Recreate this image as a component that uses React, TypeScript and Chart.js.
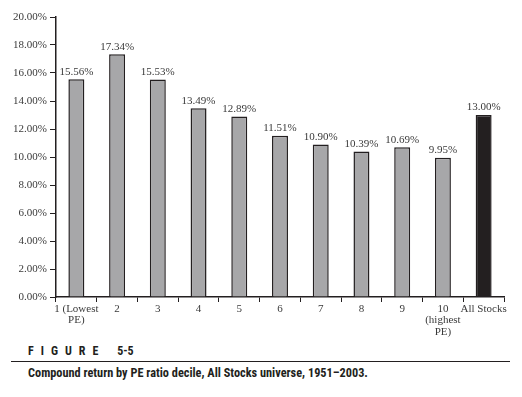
import React, { useEffect, useRef } from "react";
import { Chart, registerables } from "chart.js";

Chart.register(...registerables);

const categories: (string | string[])[] = [
  ["1 (Lowest", "PE)"],
  "2",
  "3",
  "4",
  "5",
  "6",
  "7",
  "8",
  "9",
  ["10", "(highest", "PE)"],
  "All Stocks",
];
const returns: number[] = [15.56, 17.34, 15.53, 13.49, 12.89, 11.51, 10.9, 10.39, 10.69, 9.95, 13.0];
const yTicks: number[] = [0, 2, 4, 6, 8, 10, 12, 14, 16, 18, 20];

const GRAY = "#a7a7a9";
const DARK = "#231f20";
const SERIF = "'Liberation Serif', 'DejaVu Serif', serif";

const labelPlugin = {
  id: "barLabels",
  afterDatasetsDraw(chart: any) {
    const ctx = chart.ctx;
    const meta = chart.getDatasetMeta(0);
    ctx.save();
    ctx.font = `11px ${SERIF}`;
    ctx.fillStyle = "#3a3a3a";
    ctx.textAlign = "center";
    ctx.textBaseline = "bottom";
    meta.data.forEach((el: any, i: number) => {
      ctx.fillText(`${returns[i].toFixed(2)}%`, el.x, el.y - 2);
    });
    ctx.restore();
  },
};

export default function App() {
  const ref = useRef<HTMLCanvasElement>(null);
  useEffect(() => {
    if (!ref.current) return;
    const chart = new Chart(ref.current, {
      type: "bar",
      data: {
        labels: categories,
        datasets: [
          {
            data: returns,
            backgroundColor: returns.map((_, i) => (i === returns.length - 1 ? DARK : GRAY)),
            borderColor: DARK,
            borderWidth: 1.5,
            borderSkipped: "bottom",
            barPercentage: 0.8,
            categoryPercentage: 0.49,
          },
        ],
      },
      options: {
        responsive: false,
        animation: false,
        layout: { padding: { left: 0, right: 18, top: 17, bottom: 0 } },
        plugins: { legend: { display: false }, tooltip: { enabled: false } },
        scales: {
          x: {
            grid: {
              offset: true,
              drawOnChartArea: false,
              tickLength: 5,
              color: DARK,
              lineWidth: 1,
            },
            border: { color: DARK, width: 1.5 },
            ticks: {
              font: { family: SERIF, size: 11, lineHeight: 1.05 },
              color: "#3a3a3a",
              padding: 1,
              maxRotation: 0,
              autoSkip: false,
            },
            afterFit(scale: any) {
              scale.height = 43;
            },
          },
          y: {
            min: 0,
            max: 20,
            afterBuildTicks(scale: any) {
              scale.ticks = yTicks.map((v) => ({ value: v }));
            },
            grid: {
              drawOnChartArea: false,
              tickLength: 6,
              color: DARK,
              lineWidth: 1,
            },
            border: { color: DARK, width: 1.5 },
            ticks: {
              font: { family: SERIF, size: 11 },
              color: "#3a3a3a",
              padding: 3,
              callback: (v: any) => `${Number(v).toFixed(2)}%`,
            },
            afterFit(scale: any) {
              scale.width = 56;
            },
          },
        },
      },
      plugins: [labelPlugin],
    });
    return () => chart.destroy();
  }, []);

  const cond = "'Liberation Sans Narrow', 'Roboto Condensed', 'Liberation Sans', Arial, sans-serif";
  return (
    <div style={{ position: "absolute", left: 0, top: 0, width: 522, height: 397, background: "#fff" }}>
      <canvas ref={ref} width={522} height={340} style={{ position: "absolute", left: 0, top: 0 }} />
      <div
        style={{
          position: "absolute",
          left: 28,
          top: 344,
          fontFamily: cond,
          fontWeight: "bold",
          fontSize: 12,
          letterSpacing: "7px",
          color: "#231f20",
          whiteSpace: "nowrap",
        }}
      >
        FIGURE <span style={{ letterSpacing: "0px", marginLeft: 2 }}>5-5</span>
      </div>
      <div style={{ position: "absolute", left: 11, top: 361, width: 499, height: 1, background: "#231f20" }} />
      <div
        style={{
          position: "absolute",
          left: 28,
          top: 366,
          fontFamily: cond,
          fontWeight: "bold",
          fontSize: 12.3,
          color: "#231f20",
          whiteSpace: "nowrap",
        }}
      >
        Compound return by PE ratio decile, All Stocks universe, 1951–2003.
      </div>
    </div>
  );
}
